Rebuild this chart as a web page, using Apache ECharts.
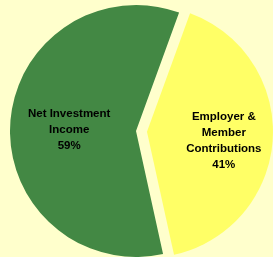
<!DOCTYPE html>
<html>
<head>
<meta charset="utf-8">
<script src="https://cdn.jsdelivr.net/npm/echarts@6/dist/echarts.min.js"></script>
<style>
  html, body { margin: 0; padding: 0; background: #FFFFCC; }
  #chart { width: 273px; height: 257px; }
</style>
</head>
<body>
<div id="chart"></div>
<script>
const categories = ['Employer &\nMember\nContributions', 'Net Investment\nIncome'];
const shares = [41, 59];
const colors = ['#FFFF66', '#438844'];

const chart = echarts.init(document.getElementById('chart'));

chart.setOption({
    backgroundColor: '#FFFFCC',
    animation: false,
    series: [{
        type: 'pie',
        center: [136, 131],
        radius: 126,
        startAngle: 70,
        clockwise: true,
        selectedMode: 'single',
        selectedOffset: 11,
        emphasis: { disabled: true },
        label: {
            position: 'inside',
            color: '#000',
            fontFamily: 'Liberation Sans',
            fontWeight: 'bold',
            fontSize: 11.5,
            lineHeight: 16,
            formatter: p => `${p.name}\n${p.value}%`
        },
        labelLine: { show: false },
        labelLayout: p => p.dataIndex === 0 ? { dx: 11, dy: 5 } : { dx: -1, dy: 3 },
        data: categories.map((name, i) => ({
            name,
            value: shares[i],
            selected: i === 0,
            itemStyle: { color: colors[i] }
        }))
    }]
});
</script>
</body>
</html>
